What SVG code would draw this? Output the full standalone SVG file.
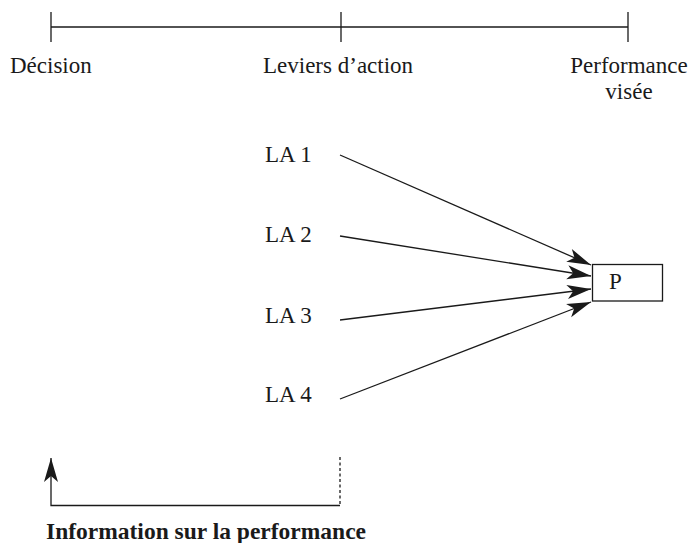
<svg xmlns="http://www.w3.org/2000/svg" width="693" height="543" viewBox="0 0 693 543">
<defs>
<style>
.t{font-family:"Liberation Serif","Times New Roman",serif;font-size:23px;fill:#1a1a1a}
.b{font-weight:bold}
.ln{stroke:#1a1a1a;stroke-width:1.3;fill:none}
</style>
<marker id="ah" markerUnits="userSpaceOnUse" viewBox="-26 -8 28 16" markerWidth="28" markerHeight="16" refX="0" refY="0" orient="auto">
<path d="M0,0 L-24,-7 L-18,0 L-24,7 Z" fill="#1a1a1a"/>
</marker>
</defs>
<rect width="693" height="543" fill="#fff"/>
<g id="timeline">
<line class="ln" x1="51" y1="27" x2="628" y2="27"/>
<line class="ln" x1="51" y1="12" x2="51" y2="42"/>
<line class="ln" x1="341" y1="12" x2="341" y2="42"/>
<line class="ln" x1="628" y1="12" x2="628" y2="42"/>
<text class="t" x="10" y="73">Décision</text>
<text class="t" x="263" y="73">Leviers d’action</text>
<text class="t" x="629" y="73" text-anchor="middle">Performance</text>
<text class="t" x="629" y="99" text-anchor="middle">visée</text>
</g>
<g id="la1"><text class="t" x="265" y="162">LA 1</text></g>
<g id="la2"><text class="t" x="265" y="242">LA 2</text></g>
<g id="la3"><text class="t" x="265" y="323">LA 3</text></g>
<g id="la4"><text class="t" x="265" y="402">LA 4</text></g>
<g id="p">
<rect x="592.5" y="264.5" width="70" height="36.5" fill="#fff" stroke="#1a1a1a" stroke-width="1.3"/>
<text class="t" x="609" y="289">P</text>
</g>
<g id="connectors">
<line class="ln" x1="340" y1="155" x2="591" y2="265" marker-end="url(#ah)"/>
<line class="ln" x1="340" y1="236" x2="591" y2="276" marker-end="url(#ah)"/>
<line class="ln" x1="340" y1="320" x2="591" y2="289" marker-end="url(#ah)"/>
<line class="ln" x1="340" y1="399" x2="591" y2="302" marker-end="url(#ah)"/>
<polyline class="ln" points="340,505.5 51,505.5 51,458" marker-end="url(#ah)"/>
<line class="ln" x1="340" y1="457" x2="340" y2="505.5" stroke-dasharray="3,2.5"/>
</g>
<g id="feedback-label">
<text class="t b" x="46" y="539" style="font-size:23.5px">Information sur la performance</text>
</g>
</svg>
